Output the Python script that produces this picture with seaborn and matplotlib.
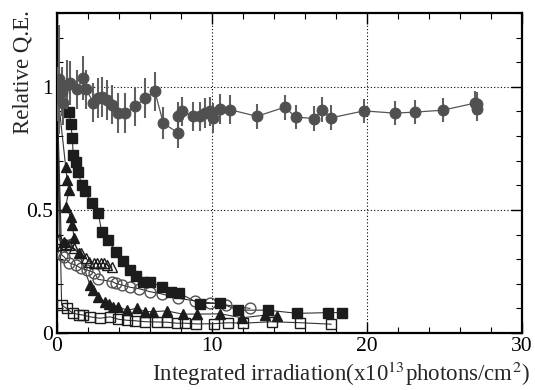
import numpy as np
import pandas as pd
import matplotlib
matplotlib.use("Agg")
import matplotlib.pyplot as plt
import seaborn as sns

# Stable reference photocathode (gray filled circles, with errors)
ref_x = [0.0, 0.08, 0.1, 0.3, 0.4, 0.62, 0.84, 1.27, 1.7, 1.87, 2.35, 2.67, 2.88, 3.2, 3.53,
         3.96, 4.39, 5.03, 5.68, 6.32, 6.86, 7.83, 7.83, 8.04, 8.8, 9.2, 9.55, 9.87, 10.1,
         10.5, 11.16, 12.9, 14.7, 15.4, 16.6, 17.1, 17.7, 19.8, 21.8, 23.1, 24.9, 27.0,
         27.1, 27.1]
ref_y = [1.0, 0.96, 1.03, 0.98, 0.934, 1.008, 1.015, 0.99, 1.035, 0.99, 0.936, 0.954, 0.958,
         0.947, 0.927, 0.893, 0.893, 0.92, 0.954, 0.981, 0.852, 0.812, 0.88, 0.9, 0.88,
         0.88, 0.893, 0.9, 0.873, 0.91, 0.907, 0.88, 0.917, 0.877, 0.871, 0.907, 0.874,
         0.902, 0.893, 0.897, 0.905, 0.934, 0.91, 0.93]
ref_err = [0.08, 0.1, 0.22, 0.1, 0.09, 0.1, 0.09, 0.08, 0.09, 0.08, 0.08, 0.08, 0.08, 0.08,
           0.08, 0.08, 0.08, 0.08, 0.08, 0.08, 0.065, 0.06, 0.06, 0.06, 0.06, 0.06, 0.06,
           0.06, 0.06, 0.06, 0.06, 0.05, 0.05, 0.05, 0.05, 0.05, 0.05, 0.05, 0.05, 0.05,
           0.05, 0.05, 0.05, 0.05]

# Filled squares
sq_x = [0.0, 0.8, 0.9, 0.99, 1.05, 1.23, 1.38, 1.59, 1.8, 2.24, 2.67, 2.88, 3.3, 3.8, 4.28,
        4.72, 5.1, 5.57, 6.0, 6.75, 7.33, 7.9, 9.2, 10.5, 11.7, 13.6, 15.5, 17.5, 18.4]
sq_y = [1.0, 0.896, 0.848, 0.79, 0.724, 0.696, 0.653, 0.6, 0.575, 0.527, 0.487, 0.412,
        0.378, 0.33, 0.292, 0.255, 0.232, 0.209, 0.209, 0.188, 0.168, 0.162, 0.119, 0.122,
        0.093, 0.093, 0.08, 0.083, 0.083]

# Filled triangles
tri_x = [0.0, 0.56, 0.66, 0.77, 0.56, 0.88, 0.99, 1.1, 0.45, 1.42, 2.13, 2.35, 2.67, 3.1,
         3.35, 3.6, 3.96, 4.5, 5.14, 5.68, 6.2, 7.08, 8.1, 9.05, 10.55, 11.95, 13.45, 14.2]
tri_y = [1.0, 0.676, 0.62, 0.58, 0.513, 0.473, 0.44, 0.386, 0.37, 0.324, 0.195, 0.175, 0.148,
         0.127, 0.12, 0.107, 0.107, 0.093, 0.1, 0.087, 0.087, 0.09, 0.077, 0.077, 0.078,
         0.062, 0.073, 0.069]

# Open triangles
otri_x = [0.0, 0.15, 0.34, 0.55, 0.77, 1.1, 1.53, 1.85, 2.06, 2.39, 2.6, 2.82, 3.03, 3.25,
          3.55]
otri_y = [1.0, 0.38, 0.358, 0.36, 0.358, 0.344, 0.324, 0.304, 0.29, 0.283, 0.283, 0.283,
          0.283, 0.276, 0.268]

# Open circles
oc_x = [0.0, 0.3, 0.45, 0.8, 1.2, 1.55, 1.95, 2.42, 2.65, 3.57, 3.78, 4.2, 4.72, 5.3, 6.0,
        6.75, 7.83, 8.9, 9.87, 10.9, 12.45]
oc_y = [1.0, 0.317, 0.31, 0.285, 0.276, 0.263, 0.256, 0.245, 0.218, 0.209, 0.202, 0.195,
        0.186, 0.18, 0.168, 0.159, 0.141, 0.131, 0.123, 0.114, 0.1]

# Open squares
osq_x = [0.0, 0.3, 0.62, 1.05, 1.45, 1.7, 2.13, 2.77, 3.42, 3.96, 4.5, 5.03, 5.68, 6.43,
         7.08, 7.72, 8.26, 9.0, 10.15, 11.05, 12.0, 13.85, 15.7, 17.7]
osq_y = [1.0, 0.114, 0.1, 0.08, 0.075, 0.073, 0.066, 0.06, 0.066, 0.056, 0.052, 0.05, 0.046,
         0.045, 0.044, 0.04, 0.04, 0.037, 0.038, 0.042, 0.04, 0.046, 0.042, 0.036]

x_ticks = [0, 10, 20, 30]
y_ticks = [0, 0.5, 1]
y_tick_labels = ["0", "0.5", "1"]

sns.set_style("ticks")
plt.rcParams["font.family"] = ["Liberation Serif", "DejaVu Serif"]
plt.rcParams["mathtext.fontset"] = "stix"

fig = plt.figure(figsize=(5.35, 3.9), dpi=100)
ax = fig.add_axes([0.1065, 0.146, 0.869, 0.821])

dark = "#1c1c1c"
gray = "#505050"

series = [
    (osq_x, osq_y, "s", "none", dark, 7.2),
    (oc_x, oc_y, "o", "none", gray, 7.8),
    (otri_x, otri_y, "^", "none", dark, 7.6),
    (tri_x, tri_y, "^", dark, dark, 7.6),
    (sq_x, sq_y, "s", dark, dark, 7.2),
]

for xs, ys, mk, fc, ec, ms in series:
    df = pd.DataFrame({"x": xs, "y": ys})
    sns.lineplot(data=df, x="x", y="y", sort=False, ax=ax, color="#333333", lw=0.8,
                 estimator=None, zorder=2)
    # markers drawn without the starting point at zero dose
    sns.lineplot(data=df.iloc[1:], x="x", y="y", sort=False, ax=ax, estimator=None,
                 lw=0, marker=mk, markersize=ms, markerfacecolor=fc,
                 markeredgecolor=ec, markeredgewidth=1.0, zorder=3)

ref = pd.DataFrame({"x": ref_x, "y": ref_y, "e": ref_err})
ax.errorbar(ref["x"], ref["y"], yerr=ref["e"], fmt="none", ecolor="#606060",
            elinewidth=1.5, capsize=0, zorder=4)
sns.lineplot(data=ref, x="x", y="y", sort=False, ax=ax, estimator=None, color="#555555",
             lw=0.9, marker="o", markersize=7.8, markerfacecolor=gray,
             markeredgecolor=gray, zorder=5)

ax.set_xlim(0, 30)
ax.set_ylim(0, 1.3)
ax.set_xticks(x_ticks)
ax.set_xticklabels([str(t) for t in x_ticks])
ax.set_yticks(y_ticks)
ax.set_yticklabels(y_tick_labels)
ax.set_xticks(np.arange(0, 30.1, 2), minor=True)
ax.set_yticks(np.arange(0, 1.31, 0.1), minor=True)
ax.tick_params(which="both", direction="in", top=True, right=True, colors="black",
               labelsize=15.5)
ax.tick_params(which="major", length=8, width=1.0, pad=3)
ax.tick_params(which="minor", length=4, width=0.8)

ax.grid(True, which="major", linestyle=(0, (1, 2)), color="black", linewidth=0.8)
for s in ax.spines.values():
    s.set_linewidth(1.6)
    s.set_color("black")

ax.set_xlabel("Integrated irradiation(x10$^{13}$photons/cm$^{2}$)", fontsize=16.5,
              loc="right")
ax.set_ylabel("Relative Q.E.", fontsize=16.5, loc="top")
ax.xaxis.set_label_coords(1.017, -0.084)
ax.xaxis.label.set_va("top")
ax.yaxis.set_label_coords(-0.05, 1.01)

fig.savefig("out.png", dpi=100)
